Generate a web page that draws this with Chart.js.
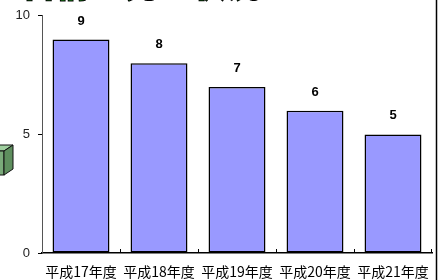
<!DOCTYPE html>
<html>
<head>
<meta charset="utf-8">
<script src="https://cdn.jsdelivr.net/npm/chart.js@4"></script>
<style>
  html, body { margin: 0; padding: 0; background: #fff; }
  #wrap { width: 441px; height: 280px; position: relative; }
</style>
</head>
<body>
<div id="wrap"><canvas id="c" width="441" height="280"></canvas></div>
<script>
const categories = ['平成17年度', '平成18年度', '平成19年度', '平成20年度', '平成21年度'];
const counts = [9, 8, 7, 6, 5];
const yTicks = [0, 5, 10];

const FONT = '"Noto Sans CJK JP", "DejaVu Sans", sans-serif';

// 枠・タイトル・箱の装飾と棒の上の数値
const decor = {
  id: 'decor',
  afterDraw(chart) {
    const ctx = chart.ctx;
    const x = chart.scales.x;
    const y = chart.scales.y;
    const meta = chart.getDatasetMeta(0);

    ctx.save();
    // 数値ラベル
    ctx.fillStyle = '#000';
    ctx.font = 'bold 13px "Liberation Sans", Arial, sans-serif';
    ctx.textAlign = 'center';
    ctx.textBaseline = 'bottom';
    meta.data.forEach((bar, i) => {
      ctx.fillText(String(counts[i]), bar.x, bar.y - 12);
    });

    // x軸の目盛り(内向き)、カテゴリの境目
    ctx.strokeStyle = '#000';
    ctx.lineWidth = 1;
    const n = categories.length;
    for (let i = 1; i <= n; i++) {
      const bx = i < n
        ? Math.round((x.getPixelForValue(i - 1) + x.getPixelForValue(i)) / 2) + 0.5
        : Math.round(x.right) - 0.5;
      ctx.beginPath();
      ctx.moveTo(bx, y.bottom);
      ctx.lineTo(bx, y.bottom - 4);
      ctx.stroke();
    }

    // 右の枠線
    ctx.lineWidth = 1.5;
    ctx.beginPath();
    ctx.moveTo(436.5, 0);
    ctx.lineTo(436.5, 280);
    ctx.stroke();

    // タイトル(上で切れている)
    ctx.font = 'bold 34px ' + FONT;
    ctx.textAlign = 'left';
    ctx.textBaseline = 'alphabetic';
    ctx.lineWidth = 2;
    ctx.strokeStyle = '#000';
    ctx.fillStyle = '#1a9a1a';
    ctx.strokeText('苦情の発生状況', 22, -3);
    ctx.fillText('苦情の発生状況', 22, -3);

    // 左の立体の箱
    ctx.lineWidth = 1;
    ctx.strokeStyle = '#111';
    ctx.fillStyle = '#9fcf9f';
    ctx.beginPath();
    ctx.moveTo(-10, 151); ctx.lineTo(4, 151); ctx.lineTo(13, 145); ctx.lineTo(-1, 145); ctx.closePath();
    ctx.fill(); ctx.stroke();
    ctx.fillStyle = '#7aaa7a';
    ctx.fillRect(-10, 151, 14, 24);
    ctx.strokeRect(-10, 151, 14, 24);
    ctx.fillStyle = '#5e8e5e';
    ctx.beginPath();
    ctx.moveTo(4, 151); ctx.lineTo(13, 145); ctx.lineTo(13, 169); ctx.lineTo(4, 175); ctx.closePath();
    ctx.fill(); ctx.stroke();
    ctx.restore();
  }
};

new Chart(document.getElementById('c'), {
  type: 'bar',
  data: {
    labels: categories,
    datasets: [{
      data: counts,
      backgroundColor: '#9999ff',
      borderColor: '#000',
      borderWidth: 1.5,
      borderSkipped: false,
      barPercentage: 0.73,
      categoryPercentage: 1.0
    }]
  },
  options: {
    responsive: false,
    animation: false,
    devicePixelRatio: 1,
    layout: { padding: { top: 15, right: 9, left: 0, bottom: 0 } },
    plugins: { legend: { display: false }, tooltip: { enabled: false } },
    scales: {
      x: {
        grid: { display: false },
        border: { display: true, color: '#000', width: 1.5 },
        ticks: { color: '#000', font: { family: FONT, size: 14 }, padding: 2, maxRotation: 0, autoSkip: false },
        afterFit(scale) { scale.height = 27; }
      },
      y: {
        min: 0,
        max: 10,
        afterBuildTicks(scale) { scale.ticks = yTicks.map(v => ({ value: v })); },
        grid: { drawOnChartArea: false, drawTicks: true, tickLength: 4, color: '#000' },
        border: { display: true, color: '#555', width: 1 },
        ticks: { color: '#222', font: { family: '"Liberation Sans", Arial, sans-serif', size: 13 }, padding: 8 },
        afterFit(scale) { scale.width = 42; }
      }
    }
  },
  plugins: [decor]
});
</script>
</body>
</html>
